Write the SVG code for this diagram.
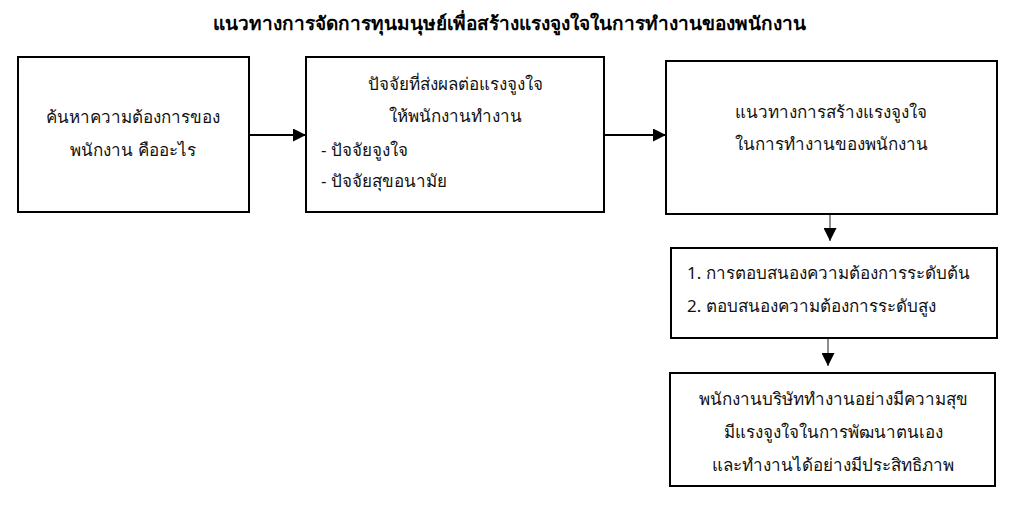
<svg xmlns="http://www.w3.org/2000/svg" width="1018" height="508" viewBox="0 0 1018 508">
<style>
.box{fill:#fff;stroke:#000;stroke-width:2}
.t{font-family:"Noto Sans","DejaVu Sans",sans-serif;font-size:17px;fill:#111}
.c{text-anchor:middle}
.title{font-family:"Noto Sans","DejaVu Sans",sans-serif;font-size:19px;font-weight:bold;text-anchor:middle;fill:#000}
.ln{stroke:#000;stroke-width:1.8;fill:none}
.lv{stroke:#444;stroke-width:1.2;fill:none}
</style>
<defs>
<marker id="ah" viewBox="0 0 10 10" refX="10" refY="5" markerWidth="13" markerHeight="13" markerUnits="userSpaceOnUse" orient="auto">
<path d="M0,0 L10,5 L0,10 Z" fill="#000"/>
</marker>
</defs>
<rect width="1018" height="508" fill="#fff"/>
<text class="title" x="509" y="30">แนวทางการจัดการทุนมนุษย์เพื่อสร้างแรงจูงใจในการทำงานของพนักงาน</text>
<g id="connectors">
<line class="ln" x1="249" y1="135" x2="306" y2="135" marker-end="url(#ah)"/>
<line class="ln" x1="605" y1="135" x2="666" y2="135" marker-end="url(#ah)"/>
<line class="lv" x1="830" y1="215" x2="830" y2="241" marker-end="url(#ah)"/>
<line class="lv" x1="828" y1="339" x2="828" y2="366" marker-end="url(#ah)"/>
</g>
<g id="n1">
<rect class="box" x="18" y="57" width="231" height="155"/>
<text class="t c" x="133" y="123">ค้นหาความต้องการของ</text>
<text class="t c" x="133" y="156">พนักงาน คืออะไร</text>
</g>
<g id="n2">
<rect class="box" x="306" y="57" width="298" height="155"/>
<text class="t c" x="455" y="90">ปัจจัยที่ส่งผลต่อแรงจูงใจ</text>
<text class="t c" x="455" y="122">ให้พนักงานทำงาน</text>
<text class="t" x="321" y="156">- ปัจจัยจูงใจ</text>
<text class="t" x="321" y="187">- ปัจจัยสุขอนามัย</text>
</g>
<g id="n3">
<rect class="box" x="666" y="61" width="331" height="153"/>
<text class="t c" x="831" y="118">แนวทางการสร้างแรงจูงใจ</text>
<text class="t c" x="831" y="150">ในการทำงานของพนักงาน</text>
</g>
<g id="n4">
<rect class="box" x="671" y="248" width="326" height="90"/>
<text class="t" x="687" y="279">1. การตอบสนองความต้องการระดับต้น</text>
<text class="t" x="687" y="312">2. ตอบสนองความต้องการระดับสูง</text>
</g>
<g id="n5">
<rect class="box" x="670" y="373" width="325" height="113"/>
<text class="t c" x="833" y="405">พนักงานบริษัททำงานอย่างมีความสุข</text>
<text class="t c" x="833" y="438">มีแรงจูงใจในการพัฒนาตนเอง</text>
<text class="t c" x="833" y="471">และทำงานได้อย่างมีประสิทธิภาพ</text>
</g>
</svg>
